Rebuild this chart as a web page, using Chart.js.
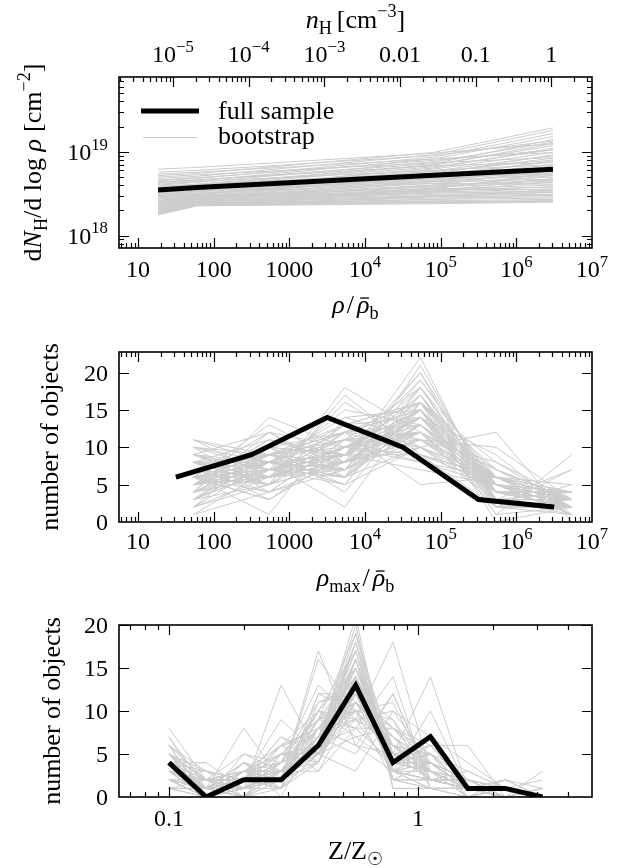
<!DOCTYPE html>
<html>
<head>
<meta charset="utf-8">
<script src="https://cdn.jsdelivr.net/npm/chart.js@4.4.0/dist/chart.umd.min.js"></script>
<style>
  body { margin:0; background:#fff; width:626px; height:868px; overflow:hidden; position:relative; }
  canvas { position:absolute; left:0; }
</style>
</head>
<body>
<canvas id="c1" width="626" height="320" style="top:0px"></canvas>
<canvas id="c2" width="626" height="280" style="top:320px"></canvas>
<canvas id="c3" width="626" height="268" style="top:600px"></canvas>
<script>
// ---- panel 1: column density per log density (values in units of 1e18 cm^-2)
var UNIT = 1e18;
var rhoFit = [18.4, 60, 8e4, 3.05e6];
var fullNH = [3.50, 3.75, 5.25, 6.17];
var bootNH = [
  [6.2,6.5,9.6,12.5],[5.7,6.0,9.0,13.5],[5.2,5.5,9.8,19.3],[4.8,5.1,9.2,18.0],
  [4.5,4.8,8.6,16.5],[4.2,4.5,8.2,15.2],[4.0,4.3,7.6,13.0],[3.8,4.1,7.0,11.8],
  [3.6,3.9,6.6,10.6],[3.4,3.7,6.2,9.8],[3.3,3.6,5.9,9.0],[3.1,3.4,5.6,8.4],
  [3.0,3.3,5.3,7.6],[2.9,3.2,5.0,7.0],[2.8,3.1,4.8,6.4],[2.7,3.0,4.6,5.9],
  [2.6,2.95,4.4,5.4],[2.5,2.9,4.2,5.0],[2.45,2.85,4.0,4.6],[2.4,2.8,3.8,4.3],
  [2.35,2.75,3.6,4.0],[2.3,2.7,3.5,3.8],[2.25,2.65,3.3,3.6],[2.2,2.6,3.2,3.4],
  [2.15,2.55,3.1,3.25],[2.1,2.5,3.0,3.1],[2.05,2.45,2.9,3.0],[2.0,2.4,2.8,2.9],
  [1.95,2.38,2.7,2.8],[1.9,2.35,2.6,2.7],[1.85,2.3,2.5,2.6],[1.8,2.28,2.45,2.55],
  [1.76,2.26,2.4,2.5],[3.9,4.1,5.5,6.0],[3.2,3.5,4.6,5.2],[2.6,2.9,3.9,4.5],
  [5.0,5.3,7.4,8.5],[4.4,4.6,6.8,7.4],[3.0,3.2,4.2,4.1],[2.7,3.0,3.6,3.5],
  [2.2,2.5,3.4,4.8],[3.5,3.8,5.0,5.6],[1.9,2.3,2.9,3.3],[4.1,4.4,6.0,7.0],
  [3.6,3.8,5.8,8.0],[2.9,3.1,4.9,7.8],[2.4,2.7,4.4,6.8],[3.3,3.5,6.4,11.0],
  [2.2,2.5,3.7,5.2],[2.0,2.35,3.3,4.4],[4.6,4.9,7.9,10.5],[3.7,4.0,6.9,12.5],
  [2.5,2.8,3.3,3.3],[2.1,2.45,2.95,3.5],[1.85,2.3,2.7,3.1],[3.1,3.4,4.4,4.7],
  [2.8,3.1,5.4,9.2],[2.3,2.6,4.0,6.0],[5.4,5.7,8.2,9.8],[4.3,4.6,7.2,14.0],
  [2.6,2.9,3.4,3.8],[3.4,3.6,4.8,5.5],[2.0,2.3,3.6,5.6],[1.95,2.32,2.55,2.6]
];
var NH_TO_RHO = 2.9e6;   // rho/rho_b at n_H = 1 cm^-3
var nHTicks = [1e-5, 1e-4, 1e-3, 0.01, 0.1, 1];

// ---- panel 2: peak density histogram
var rhoMaxFull = [31.6, 316, 3162, 31623, 316228, 3162278];
var countFull = [6, 9, 14, 10, 3, 2];
var rhoMaxBoot = [54, 540, 5400, 5.4e4, 5.4e5, 5.4e6];
var countBoot = [
  [6,7,9,14,5,3],[11,8,6,13,4,2],[3,10,12,11,6,2],[5,6,8,22,2,1],[8,5,10,15,3,3],
  [4,9,7,18,4,2],[9,12,6,10,5,2],[2,6,13,16,4,3],[7,4,11,12,7,3],[10,8,9,9,5,3],
  [5,11,8,14,3,3],[1,7,15,13,6,2],[6,3,9,20,4,2],[8,9,5,17,2,3],[3,5,18,12,4,2],
  [9,7,7,11,8,2],[4,14,10,8,5,3],[6,8,12,15,1,2],[7,10,4,16,6,1],[5,6,10,13,3,7],
  [2,8,9,19,5,1],[11,6,8,10,6,3],[6,1,14,15,4,4],[4,7,6,21,3,3],[8,11,9,7,5,4],
  [3,9,11,12,2,7],[7,5,8,14,9,1],[5,8,13,16,0,2],[9,6,10,11,4,4],[6,12,7,13,5,1],
  [1,4,11,18,6,4],[10,7,5,10,12,0],[4,6,16,10,6,2],[7,9,12,9,2,5],[5,10,6,17,3,3],
  [8,3,10,14,5,4],[3,7,9,15,1,9],[6,13,8,11,4,2],[2,5,17,9,6,5],[9,8,2,16,7,2],
  [10,9,12,5,6,2],[7,6,10,13,5,3],[5,8,8,15,6,2],[6,7,11,12,4,4],[8,6,9,14,4,3],
  [4,9,10,12,6,3],[6,5,12,16,3,2],[7,8,7,13,6,3],[5,7,9,17,4,2],[9,5,8,12,7,3],
  [3,8,11,14,5,3],[6,9,8,11,6,4],[8,7,10,15,2,2],[5,6,7,19,5,2],[7,10,9,12,4,2],
  [4,6,12,15,5,2],[6,8,6,14,7,3],[10,4,8,13,6,3],[5,9,13,10,4,3],[7,6,9,18,3,1],
  [3,7,10,16,5,3],[8,8,11,8,6,3],[6,4,7,16,8,3],[5,11,9,12,4,3],[9,7,6,15,5,2],
  [4,8,14,11,5,2],[6,6,8,20,2,2],[7,9,11,10,3,4],[2,10,9,14,6,3],[8,5,12,13,4,2],
  [5,7,8,11,10,3],[6,3,9,17,5,4],[11,9,7,12,3,2],[4,12,10,9,6,3],[7,6,13,14,2,2],
  [5,8,5,18,4,4]
];

// ---- panel 3: metallicity histogram
var zBins = [0.1, 0.141, 0.2, 0.282, 0.398, 0.562, 0.794, 1.122, 1.585, 2.239, 3.162];
var zFull = [4, 0, 2, 2, 6, 13, 4, 7, 1, 1, 0];
var zBoot = [
  [4,1,2,2,6,13,5,5,1,1,0],[8,2,1,3,5,10,6,3,1,1,0],[2,0,3,5,9,15,3,2,1,0,0],
  [5,3,0,2,7,18,2,1,1,1,0],[3,1,4,1,4,12,8,5,0,2,0],[6,0,2,4,10,8,4,3,2,0,1],
  [1,2,5,3,6,20,1,1,1,0,0],[4,1,1,13,5,7,4,3,1,1,0],[3,0,2,2,17,6,5,4,1,0,0],
  [5,2,3,6,3,11,7,2,1,0,0],[2,1,0,4,8,14,3,6,1,1,0],[7,0,2,1,5,9,10,4,1,1,0],
  [4,4,1,3,7,5,12,2,2,0,0],[3,1,8,2,6,12,3,4,0,1,0],[5,0,2,7,4,16,2,2,1,0,1],
  [2,2,3,1,12,10,5,3,1,1,0],[4,1,0,5,6,13,4,5,1,0,1],[6,2,2,3,3,8,14,1,0,1,0],
  [3,0,4,2,9,11,6,2,2,1,0],[1,1,2,6,5,15,4,5,1,0,0],[5,3,1,2,8,6,3,10,1,1,0],
  [4,0,2,4,6,21,1,1,1,0,0],[2,1,3,3,7,9,18,3,1,0,0],[6,2,0,1,11,12,3,4,1,0,0],
  [3,1,2,5,4,14,5,2,3,1,0],[4,0,1,3,10,7,8,3,1,2,1],[5,2,3,2,6,17,2,2,1,0,0],
  [2,1,4,0,8,11,6,5,2,1,0],[3,0,2,9,5,13,4,3,0,1,0],[4,1,1,3,7,10,5,14,1,0,0],
  [6,3,2,2,4,12,7,3,0,1,0],[2,0,5,4,13,9,3,2,2,0,0],[3,1,0,2,6,19,5,2,1,1,0],
  [5,2,2,3,9,8,4,6,6,0,1],[1,0,3,6,7,14,2,4,1,2,0],[4,1,2,1,5,3,10,7,4,1,2],
  [3,2,1,4,8,11,6,3,1,0,3],[5,0,2,2,16,10,2,1,1,1,0],[2,1,3,5,5,12,9,1,0,0,1],
  [4,2,0,3,6,16,4,3,2,0,0],[3,1,2,3,7,12,7,4,2,1,0],[4,0,1,4,8,14,5,3,1,0,0],
  [2,2,3,2,6,11,8,5,1,0,0],[5,1,2,3,5,16,4,3,1,0,0],[3,0,2,5,9,12,6,2,1,0,0],
  [4,1,3,2,8,9,7,4,2,0,0],[2,1,1,3,10,15,5,2,1,0,0],[6,0,2,4,6,13,3,5,1,0,0],
  [3,2,2,1,7,17,4,3,1,0,0],[4,1,0,3,9,10,9,3,1,0,0],[1,0,2,4,6,18,5,3,1,0,0],
  [5,1,3,2,5,14,6,3,1,0,0],[3,1,1,6,8,11,4,4,2,0,0],[4,2,2,3,4,12,8,4,1,0,0],
  [2,0,3,4,11,13,3,2,1,1,0],[7,1,1,2,6,15,4,3,1,0,0],[3,0,2,3,8,10,11,2,1,0,0],
  [4,3,2,1,7,16,3,3,1,0,0],[2,1,0,5,9,14,5,2,2,0,0],[5,0,3,3,5,12,6,5,1,0,0],
  [3,2,1,2,10,17,3,1,1,0,0],[4,1,2,4,6,8,8,6,1,0,0],[1,1,4,3,7,15,6,2,1,0,0],
  [6,0,1,2,8,13,4,4,2,0,0],[3,1,2,7,5,11,7,3,1,0,0],[2,0,3,2,9,19,3,1,1,0,0],
  [5,2,0,3,7,10,5,6,2,0,0],[4,1,2,5,4,14,4,4,1,1,0],[3,0,1,1,12,12,5,4,1,1,0],
  [2,1,3,4,6,16,2,4,1,1,0],[4,2,2,3,8,6,12,2,1,0,0],[5,1,1,2,7,13,5,3,2,1,0],
  [3,3,2,3,5,18,3,2,1,0,0],[2,0,2,6,10,9,6,4,1,0,0],[4,1,3,2,6,11,4,5,3,1,0]
];

var GREY = 'rgb(204,204,204)';
var FONT = '"Liberation Serif", "Times New Roman", serif';

function fontStr(size, italic) { return (italic ? 'italic ' : '') + size + 'px ' + FONT; }

function richWidth(ctx, segs, size) {
  var w = 0;
  segs.forEach(function(s) {
    ctx.font = fontStr((s.sub || s.sup) ? size * 0.7 : size, s.i);
    w += ctx.measureText(s.t).width + (s.gap || 0);
  });
  return w;
}
// y is the baseline
function drawRich(ctx, segs, size, x, y, align) {
  var w = richWidth(ctx, segs, size);
  var cx = align === 'center' ? x - w / 2 : (align === 'right' ? x - w : x);
  ctx.textAlign = 'left';
  ctx.textBaseline = 'alphabetic';
  segs.forEach(function(s) {
    var sz = (s.sub || s.sup) ? size * 0.7 : size;
    ctx.font = fontStr(sz, s.i);
    var dy = s.sub ? size * 0.22 : (s.sup ? -size * 0.42 : 0);
    ctx.fillText(s.t, cx, y + dy);
    var tw = ctx.measureText(s.t).width;
    if (s.bar) ctx.fillRect(cx + tw * 0.25, y - size * 0.6, tw * 0.7, 1.3);
    cx += tw + (s.gap || 0);
  });
}

function logMinor(min, max) {
  var out = [];
  for (var k = Math.floor(Math.log10(min)); k <= Math.ceil(Math.log10(max)); k++) {
    for (var m = 2; m <= 9; m++) {
      var v = m * Math.pow(10, k);
      if (v >= min && v <= max) out.push(v);
    }
  }
  return out;
}
function pow10Label(e) { return [{t:'10'}, {t:String(e).replace('-', '\u2212'), sup:true}]; }
function plain(t) { return [{t:t}]; }

var frameAxes = {
  id: 'frameAxes',
  afterDatasetsDraw: function(chart, args, o) {
    var ctx = chart.ctx, a = chart.chartArea;
    var xs = chart.scales.x, ys = chart.scales.y;
    ctx.save();
    ctx.strokeStyle = '#000';
    ctx.fillStyle = '#000';
    ctx.lineWidth = 1.2;
    ctx.beginPath();
    function xTick(v, len, top, bottom) {
      var p = Math.round(xs.getPixelForValue(v)) + 0.5;
      if (p < a.left || p > a.right) return;
      if (bottom) { ctx.moveTo(p, a.bottom); ctx.lineTo(p, a.bottom - len); }
      if (top) { ctx.moveTo(p, a.top); ctx.lineTo(p, a.top + len); }
    }
    function yTick(v, len) {
      var p = Math.round(ys.getPixelForValue(v)) + 0.5;
      if (p < a.top || p > a.bottom) return;
      ctx.moveTo(a.left, p); ctx.lineTo(a.left + len, p);
      ctx.moveTo(a.right, p); ctx.lineTo(a.right - len, p);
    }
    var topOwn = !!o.topMajor;
    o.xMajor.forEach(function(v) { xTick(v, 10, !topOwn, true); });
    o.xMinor.forEach(function(v) { xTick(v, 5, !topOwn, true); });
    if (topOwn) {
      o.topMajor.forEach(function(v) { xTick(v, 10, true, false); });
      o.topMinor.forEach(function(v) { xTick(v, 5, true, false); });
    }
    o.yMajor.forEach(function(v) { yTick(v, 10); });
    (o.yMinor || []).forEach(function(v) { yTick(v, 5); });
    ctx.stroke();
    ctx.lineWidth = 1.6;
    ctx.strokeRect(a.left, a.top, a.right - a.left, a.bottom - a.top);

    // tick labels
    o.xLabels.forEach(function(l) {
      drawRich(ctx, l.s, 24, xs.getPixelForValue(l.v), o.xLabelY, 'center');
    });
    (o.topLabels || []).forEach(function(l) {
      drawRich(ctx, l.s, 24, xs.getPixelForValue(l.v), o.topLabelY, 'center');
    });
    o.yLabels.forEach(function(l) {
      drawRich(ctx, l.s, 24, a.left - 11, ys.getPixelForValue(l.v) + 8, 'right');
    });
    // titles
    var mid = (a.left + a.right) / 2;
    drawRich(ctx, o.xTitle, 26, mid, o.xTitleY, 'center');
    if (o.topTitle) drawRich(ctx, o.topTitle, 26, mid, o.topTitleY, 'center');
    ctx.save();
    ctx.translate(o.yTitleX, (a.top + a.bottom) / 2);
    ctx.rotate(-Math.PI / 2);
    drawRich(ctx, o.yTitle, 26, 0, 8, 'center');
    ctx.restore();

    // legend (panel 1 only)
    if (o.legend) {
      ctx.lineCap = 'butt';
      ctx.strokeStyle = '#000'; ctx.lineWidth = 5;
      ctx.beginPath(); ctx.moveTo(141, 111); ctx.lineTo(199, 111); ctx.stroke();
      ctx.strokeStyle = GREY; ctx.lineWidth = 1.2;
      ctx.beginPath(); ctx.moveTo(143, 137.5); ctx.lineTo(197, 137.5); ctx.stroke();
      ctx.fillStyle = '#000';
      drawRich(ctx, plain('full sample'), 26, 218, 119, 'left');
      drawRich(ctx, plain('bootstrap'), 26, 218, 144, 'left');
    }
    ctx.restore();
  }
};

function pts(xv, yv, scale) {
  return xv.map(function(x, i) { return {x: x, y: yv[i] * (scale || 1)}; });
}
function makeSets(xFull, yFull, xBoot, yBoot, scale) {
  var sets = [{
    data: pts(xFull, yFull, scale), borderColor: '#000', borderWidth: 5,
    pointRadius: 0, tension: 0, order: 0, borderCapStyle: 'butt'
  }];
  yBoot.forEach(function(row) {
    sets.push({ data: pts(xBoot, row, scale), borderColor: GREY, borderWidth: 1,
      pointRadius: 0, tension: 0, order: 1 });
  });
  return sets;
}
function baseOptions(pad, xCfg, yCfg, axes) {
  return {
    responsive: false, animation: false, devicePixelRatio: 1,
    layout: { padding: pad },
    plugins: { legend: { display: false }, tooltip: { enabled: false }, frameAxes: axes },
    scales: { x: xCfg, y: yCfg }
  };
}

var rhoMin = 5.6, rhoMax = 1e7;
var rhoMajor = [10, 100, 1000, 1e4, 1e5, 1e6, 1e7];
var rhoLabels = [
  {v:10, s:plain('10')}, {v:100, s:plain('100')}, {v:1000, s:plain('1000')},
  {v:1e4, s:pow10Label(4)}, {v:1e5, s:pow10Label(5)}, {v:1e6, s:pow10Label(6)}, {v:1e7, s:pow10Label(7)}
];
var countTicks = [0, 5, 10, 15, 20];
var countLabels = countTicks.map(function(v) { return {v:v, s:plain(String(v))}; });
var numObj = plain('number of objects');

// panel 1
new Chart(document.getElementById('c1'), {
  type: 'line',
  data: { datasets: makeSets(rhoFit, fullNH, rhoFit, bootNH, UNIT) },
  plugins: [frameAxes],
  options: baseOptions({left:119, right:34, top:77, bottom:72},
    {type:'logarithmic', min:rhoMin, max:rhoMax, display:false},
    {type:'logarithmic', min:7.1e17, max:7.8e19, display:false},
    {
      xMajor: rhoMajor, xMinor: logMinor(rhoMin, rhoMax),
      topMajor: nHTicks.map(function(n) { return n * NH_TO_RHO; }),
      topMinor: logMinor(rhoMin / NH_TO_RHO, rhoMax / NH_TO_RHO).map(function(n) { return n * NH_TO_RHO; }),
      yMajor: [1e18, 1e19], yMinor: logMinor(7.1e17, 7.8e19),
      xLabels: rhoLabels, xLabelY: 277,
      topLabels: [
        {v:1e-5*NH_TO_RHO, s:pow10Label(-5)}, {v:1e-4*NH_TO_RHO, s:pow10Label(-4)},
        {v:1e-3*NH_TO_RHO, s:pow10Label(-3)}, {v:0.01*NH_TO_RHO, s:plain('0.01')},
        {v:0.1*NH_TO_RHO, s:plain('0.1')}, {v:1*NH_TO_RHO, s:plain('1')}
      ], topLabelY: 62,
      yLabels: [{v:1e18, s:pow10Label(18)}, {v:1e19, s:pow10Label(19)}],
      xTitle: [{t:'\u03c1', i:true, gap:2}, {t:'/', gap:3}, {t:'\u03c1', i:true, bar:true}, {t:'b', sub:true}],
      xTitleY: 313,
      topTitle: [{t:'n', i:true}, {t:'H', sub:true, gap:5}, {t:'[cm'}, {t:'\u22123', sup:true}, {t:']'}],
      topTitleY: 28,
      yTitle: [{t:'d'}, {t:'N', i:true}, {t:'H', sub:true}, {t:'/d log '}, {t:'\u03c1', i:true, gap:7},
               {t:'[cm'}, {t:'\u22122', sup:true}, {t:']'}],
      yTitleX: 33,
      legend: true
    })
});

// panel 2
new Chart(document.getElementById('c2'), {
  type: 'line',
  data: { datasets: makeSets(rhoMaxFull, countFull, rhoMaxBoot, countBoot) },
  plugins: [frameAxes],
  options: baseOptions({left:119, right:34, top:32, bottom:78},
    {type:'logarithmic', min:rhoMin, max:rhoMax, display:false},
    {type:'linear', min:0, max:22.75, display:false},
    {
      xMajor: rhoMajor, xMinor: logMinor(rhoMin, rhoMax),
      yMajor: countTicks,
      xLabels: rhoLabels, xLabelY: 229,
      yLabels: countLabels,
      xTitle: [{t:'\u03c1', i:true}, {t:'max', sub:true, gap:2}, {t:'/', gap:3}, {t:'\u03c1', i:true, bar:true}, {t:'b', sub:true}],
      xTitleY: 266,
      yTitle: numObj, yTitleX: 50
    })
});

// panel 3
var zMin = 0.063, zMax = 5.0;
new Chart(document.getElementById('c3'), {
  type: 'line',
  data: { datasets: makeSets(zBins, zFull, zBins, zBoot) },
  plugins: [frameAxes],
  options: baseOptions({left:119, right:34, top:25, bottom:71},
    {type:'logarithmic', min:zMin, max:zMax, display:false},
    {type:'linear', min:0, max:20, display:false},
    {
      xMajor: [0.1, 1], xMinor: logMinor(zMin, zMax),
      yMajor: countTicks,
      xLabels: [{v:0.1, s:plain('0.1')}, {v:1, s:plain('1')}], xLabelY: 226,
      yLabels: countLabels,
      xTitle: [{t:'Z/Z'}, {t:'\u2609', sub:true}],
      xTitleY: 259,
      yTitle: numObj, yTitleX: 52
    })
});
</script>
</body>
</html>
